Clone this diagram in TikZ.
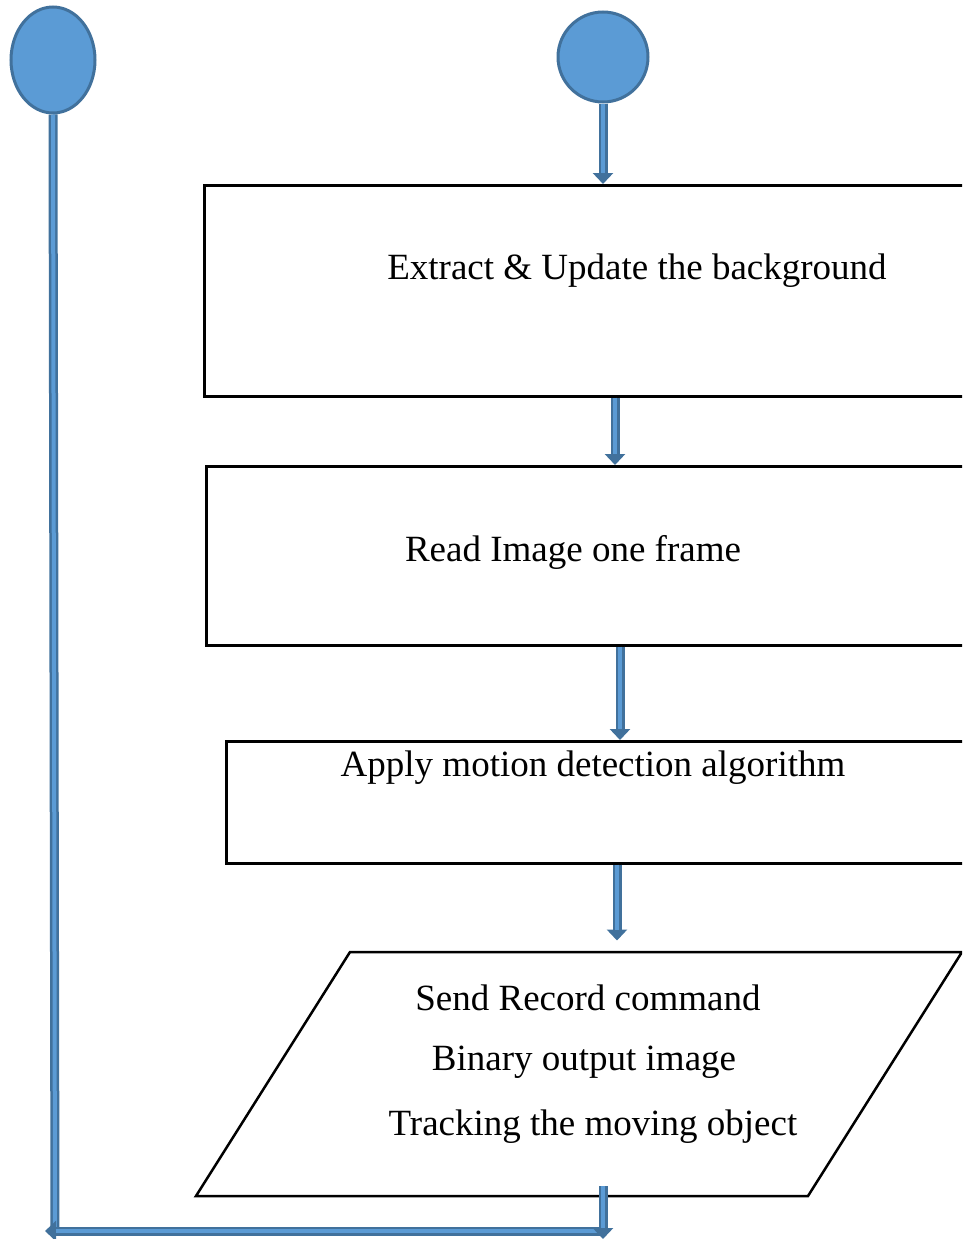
\documentclass[tikz,border=0pt]{standalone}
\usepackage{fontspec}
\setmainfont{Liberation Serif}
\usetikzlibrary{arrows.meta,calc,shapes.geometric}
\definecolor{bluefill}{HTML}{5B9BD5}
\definecolor{blueedge}{HTML}{41719C}
\tikzset{
  terminal/.style={ellipse, fill=bluefill, draw=blueedge, line width=3pt, inner sep=0pt},
  stepbox/.style={rectangle, draw=black, line width=2.5pt, inner sep=0pt, anchor=north west},
  label/.style={font=\fontsize{37}{44}\selectfont, inner sep=0pt},
  shaft/.style={draw=blueedge, line width=9pt, -{Triangle[width=20pt,length=11pt]}},
  shaftin/.style={draw=bluefill, line width=4pt},
  plainshaft/.style={draw=blueedge, line width=9pt},
}
\begin{document}
\begin{tikzpicture}[x=1pt,y=-1pt]
\useasboundingbox (0,0) rectangle (962,1239);
\clip (0,0) rectangle (962,1239);

% start / end terminals
\node[terminal, minimum width=84pt, minimum height=106pt] (loop) at (53,60) {};
\node[terminal, minimum width=90pt, minimum height=90pt] (start) at (603,57) {};

% process boxes (they run past the right edge)
\node[stepbox, minimum width=900pt, minimum height=211pt] (extract) at (203,184) {};
\node[stepbox, minimum width=900pt, minimum height=179pt] (read) at (205,465) {};
\node[stepbox, minimum width=900pt, minimum height=122pt] (apply) at (225,740) {};

% output parallelogram
\coordinate (pbl) at (196,1196);
\coordinate (ptl) at (350,952);
\coordinate (ptr) at (962,952);
\coordinate (pbr) at (808,1196);
\draw[line width=2.5pt] (pbl) -- (ptl) -- (ptr) -- (pbr) -- cycle;

% texts
\node[label] (textract) at (637,271) {Extract \& Update the background};
\node[label] (tread) at (573,552) {Read Image one frame};
\node[label] (tapply) at (593,768) {Apply motion detection algorithm};
\node[label] (tsend) at (588,998) {Send Record command};
\node[label] (tbinary) at (584,1062) {Binary output image};
\node[label] (ttrack) at (593,1127) {Tracking the moving object};

% connector columns
\coordinate (x1) at (615,0);
\coordinate (x2) at (620,0);
\coordinate (x3) at (617,0);
\coordinate (outtop) at (603,1186);
\coordinate (cornerR) at (603,1231);
\coordinate (cornerL) at (55,1231);
\coordinate (tipR) at (603,1239);
\coordinate (tipL) at (45,1231);

% arrows between the steps
\draw[shaft] (start.south) -- (start.south |- extract.north);
\draw[shaftin, shorten >=11pt] (start.south) -- (start.south |- extract.north);

\draw[shaft] (extract.south -| x1) -- (read.north -| x1);
\draw[shaftin, shorten >=11pt] (extract.south -| x1) -- (read.north -| x1);

\draw[shaft] (read.south -| x2) -- (apply.north -| x2);
\draw[shaftin, shorten >=11pt] (read.south -| x2) -- (apply.north -| x2);

\draw[shaft] (apply.south -| x3) -- ($(apply.south -| x3)+(0,76)$) coordinate (a3end);
\draw[shaftin, shorten >=11pt] (apply.south -| x3) -- (a3end);

% loop back to the left terminal
\draw[plainshaft] (loop.south) -- (cornerL);
\draw[shaftin] (loop.south) -- (cornerL);
\draw[shaft] (cornerR) -- (tipL);
\draw[shaftin, shorten >=11pt] (cornerR) -- (tipL);
\draw[shaft] (outtop) -- (tipR);
\draw[shaftin, shorten >=11pt] (outtop) -- (tipR);
\end{tikzpicture}
\end{document}
